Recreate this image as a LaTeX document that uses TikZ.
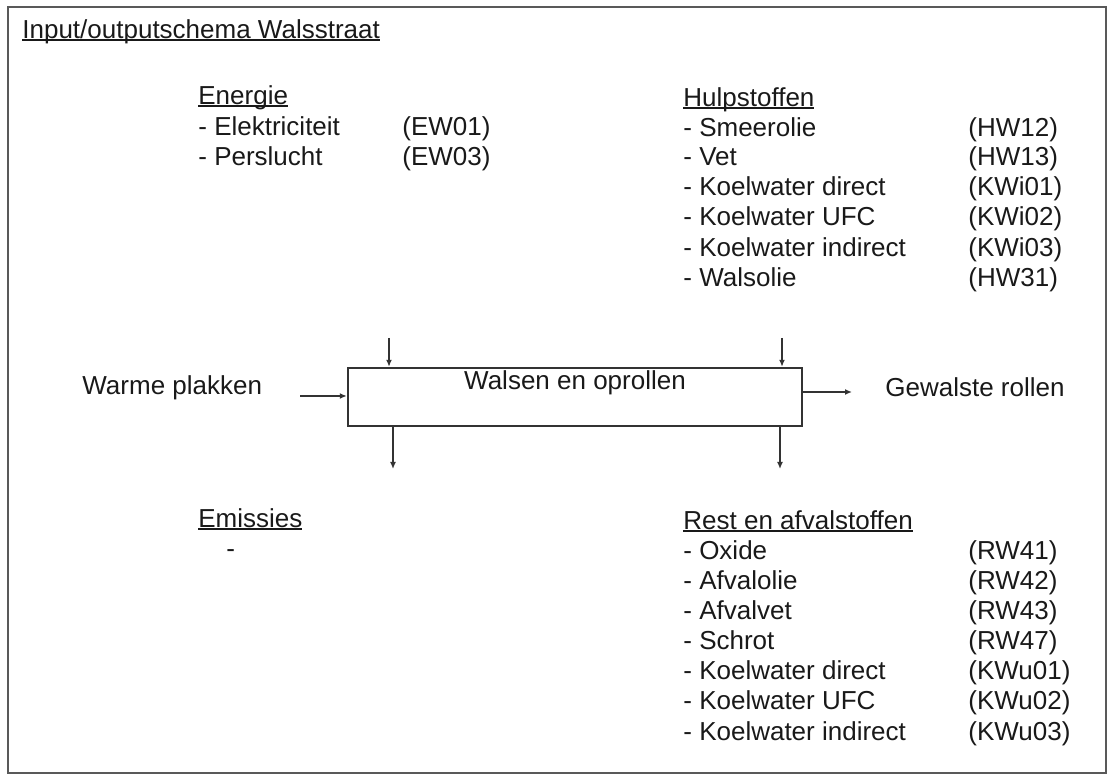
\documentclass[tikz,border=0pt]{standalone}
\usepackage{fontspec}
\setmainfont{Liberation Sans}
\usetikzlibrary{arrows.meta,positioning}
\newcommand\ulhead[1]{\setbox0\hbox{#1}\rlap{\rule[-1.4pt]{\wd0}{0.8pt}}\box0}

\begin{document}
\begin{tikzpicture}[x=0.5pt,y=-0.5pt,>={Latex[length=3.5pt,width=3pt]},
  txt/.style={anchor=west,inner sep=0pt,text=black!90,text height=9.3pt,text depth=0pt,font=\fontsize{13}{15}\selectfont},
  head/.style={txt},
  procbox/.style={draw=black!80,line width=1.2pt,minimum width=227pt,minimum height=29pt},
  flow/.style={->,draw=black!80,line width=0.9pt}]
  \useasboundingbox (0,0) rectangle (1110,775);
  \draw[black!65,line width=1pt] (8,7) rectangle (1106,773);

  \node[head] (title) at (22,29) {\ulhead{Input/outputschema Walsstraat}};

  % energie
  \node[head] (en) at (198,95) {\ulhead{Energie}};
  \node[txt] (en1) at (198,126) {- Elektriciteit};
  \node[txt] (en2) at (198,156) {- Perslucht};
  \node[txt] (en1c) at (402,126) {(EW01)};
  \node[txt] (en2c) at (402,156) {(EW03)};

  % hulpstoffen
  \node[head] (hs) at (683,97) {\ulhead{Hulpstoffen}};
  \node[txt] (hs1) at (683,127) {- Smeerolie};
  \node[txt] (hs2) at (683,156) {- Vet};
  \node[txt] (hs3) at (683,186) {- Koelwater direct};
  \node[txt] (hs4) at (683,216) {- Koelwater UFC};
  \node[txt] (hs5) at (683,247) {- Koelwater indirect};
  \node[txt] (hs6) at (683,277) {- Walsolie};
  \node[txt] (hs1c) at (968,127) {(HW12)};
  \node[txt] (hs2c) at (968,156) {(HW13)};
  \node[txt] (hs3c) at (968,186) {(KWi01)};
  \node[txt] (hs4c) at (968,216) {(KWi02)};
  \node[txt] (hs5c) at (968,247) {(KWi03)};
  \node[txt] (hs6c) at (968,277) {(HW31)};

  % proces
  \node[procbox] (proc) at (575,397) {};
  \node[txt,anchor=north,below=2pt of proc.north] (proclbl) {Walsen en oprollen};
  \node[txt] (warm) at (82,385) {Warme plakken};
  \node[txt] (gewalst) at (885,387) {Gewalste rollen};

  \coordinate (enIn) at (389,338);
  \coordinate (hsIn) at (782,338);
  \coordinate (emOut) at (393,469);
  \coordinate (rsOut) at (780,469);
  \coordinate (plakIn) at (300,396);
  \coordinate (rolOut) at (852,392);
  \draw[flow] (enIn) -- (enIn |- proc.north);
  \draw[flow] (hsIn) -- (hsIn |- proc.north);
  \draw[flow] (emOut |- proc.south) -- (emOut);
  \draw[flow] (rsOut |- proc.south) -- (rsOut);
  \draw[flow] (plakIn) -- (plakIn -| proc.west);
  \draw[flow] (rolOut -| proc.east) -- (rolOut);

  % emissies
  \node[head] (em) at (198,518) {\ulhead{Emissies}};
  \node[txt] (em1) at (226,548) {-};

  % rest en afvalstoffen
  \node[head] (rs) at (683,520) {\ulhead{Rest en afvalstoffen}};
  \node[txt] (rs1) at (683,550) {- Oxide};
  \node[txt] (rs2) at (683,580) {- Afvalolie};
  \node[txt] (rs3) at (683,610) {- Afvalvet};
  \node[txt] (rs4) at (683,640) {- Schrot};
  \node[txt] (rs5) at (683,670) {- Koelwater direct};
  \node[txt] (rs6) at (683,700) {- Koelwater UFC};
  \node[txt] (rs7) at (683,731) {- Koelwater indirect};
  \node[txt] (rs1c) at (968,550) {(RW41)};
  \node[txt] (rs2c) at (968,580) {(RW42)};
  \node[txt] (rs3c) at (968,610) {(RW43)};
  \node[txt] (rs4c) at (968,640) {(RW47)};
  \node[txt] (rs5c) at (968,670) {(KWu01)};
  \node[txt] (rs6c) at (968,700) {(KWu02)};
  \node[txt] (rs7c) at (968,731) {(KWu03)};
\end{tikzpicture}
\end{document}
